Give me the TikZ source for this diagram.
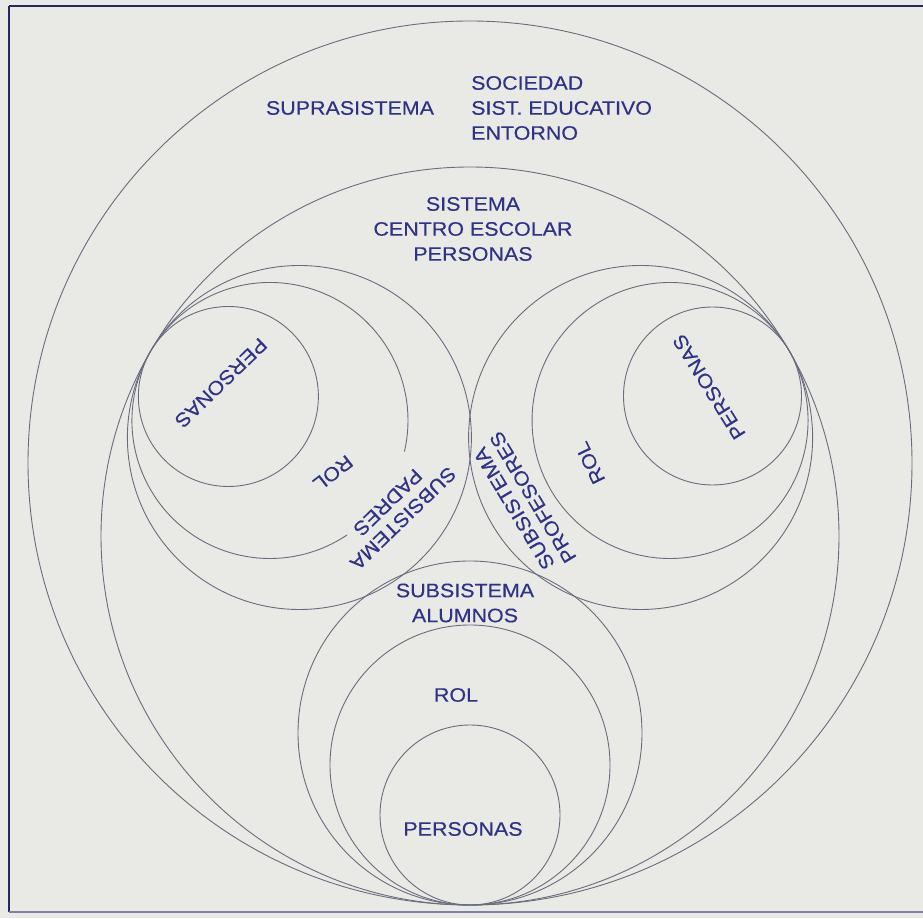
\documentclass[tikz,border=0pt]{standalone}
\usepackage{fontspec}
\setmainfont{Liberation Sans}[FakeStretch=1.1, FakeBold=0.3]
\usetikzlibrary{calc}

\definecolor{paper}{HTML}{E9EAE5}
\definecolor{ink}{HTML}{2F3387}
\definecolor{ringc}{HTML}{6A6C7E}
\definecolor{framec}{HTML}{25285E}
\definecolor{framelow}{HTML}{7D82A8}

\tikzset{
  ring/.style={draw=ringc, line width=0.9pt},
  lbl/.style={text=ink, font=\fontsize{19.5}{25}\selectfont, align=center, inner sep=0pt},
  tiltlbl/.style={lbl, font=\fontsize{19.5}{22}\selectfont},
}

\begin{document}
\begin{tikzpicture}[x=1pt,y=1pt]
\useasboundingbox (0,0) rectangle (923,918);
\fill[paper] (0,0) rectangle (923,918);

% page frame (its right side runs off the page)
\draw[framec, line width=2.2pt] (923,912) -- (9,912);
\draw[framec, line width=1.8pt] (9,912) -- (9,6);
\draw[framelow, line width=1.4pt] (9,6) -- (923,6);

% centres of the nested circles
\coordinate (supraC) at (470,455);
\coordinate (sistC)  at (470,382);
\coordinate (B)  at (470,13);
\coordinate (Tl) at ($(sistC)+(150:369pt)$);
\coordinate (Tr) at ($(sistC)+(30:369pt)$);

% suprasistema and sistema
\draw[ring] (supraC) circle[radius=442pt];
\draw[ring] (sistC) circle[radius=369pt];

% subsistema padres (touching the sistema circle on the upper left)
\coordinate (padC)  at ($(Tl)+(-30:172pt)$);
\coordinate (padR)  at ($(Tl)+(-30:138pt)$);
\coordinate (padP)  at ($(Tl)+(-30:90pt)$);
\draw[ring] (padC) circle[radius=172pt];
\draw[ring] ($(padR)+(-13:138pt)$) arc[start angle=-13, end angle=304, radius=138pt];
\draw[ring] (padP) circle[radius=90pt];

% subsistema profesores (touching the sistema circle on the upper right)
\coordinate (profC) at ($(Tr)+(210:172pt)$);
\coordinate (profR) at ($(Tr)+(210:138pt)$);
\coordinate (profP) at ($(Tr)+(210:89pt)$);
\draw[ring] (profC) circle[radius=172pt];
\draw[ring] (profR) circle[radius=138pt];
\draw[ring] (profP) circle[radius=89pt];

% subsistema alumnos (touching at the bottom)
\coordinate (aluC) at ($(B)+(90:172pt)$);
\coordinate (aluR) at ($(B)+(90:140pt)$);
\coordinate (aluP) at ($(B)+(90:90pt)$);
\draw[ring] (aluC) circle[radius=172pt];
\draw[ring] (aluR) circle[radius=140pt];
\draw[ring] (aluP) circle[radius=90pt];

% labels
\node[lbl] (supra) at (350,810) {SUPRASISTEMA};
\node[lbl, align=left, anchor=west] (entorno) at (471,810) {SOCIEDAD\\SIST. EDUCATIVO\\ENTORNO};
\node[lbl] (sistema) at (473,689) {SISTEMA\\CENTRO ESCOLAR\\PERSONAS};

\node[lbl] (aluS) at (465,315) {SUBSISTEMA\\ALUMNOS};
\node[lbl] (aluRol) at (456,223) {ROL};
\node[lbl] (aluPer) at (463,89) {PERSONAS};

\node[tiltlbl, rotate=224] (padPer) at (221,535) {PERSONAS};
\node[tiltlbl, rotate=218] (padRol) at (333,445) {ROL};
\node[tiltlbl, rotate=224] (padS) at (395.5,407.5) {SUBSISTEMA\\PADRES};

\node[tiltlbl, rotate=122] (profPer) at (709,531) {PERSONAS};
\node[tiltlbl, rotate=116] (profRol) at (590,455) {ROL};
\node[tiltlbl, rotate=121] (profS) at (523.5,415) {SUBSISTEMA\\PROFESORES};
\end{tikzpicture}
\end{document}
